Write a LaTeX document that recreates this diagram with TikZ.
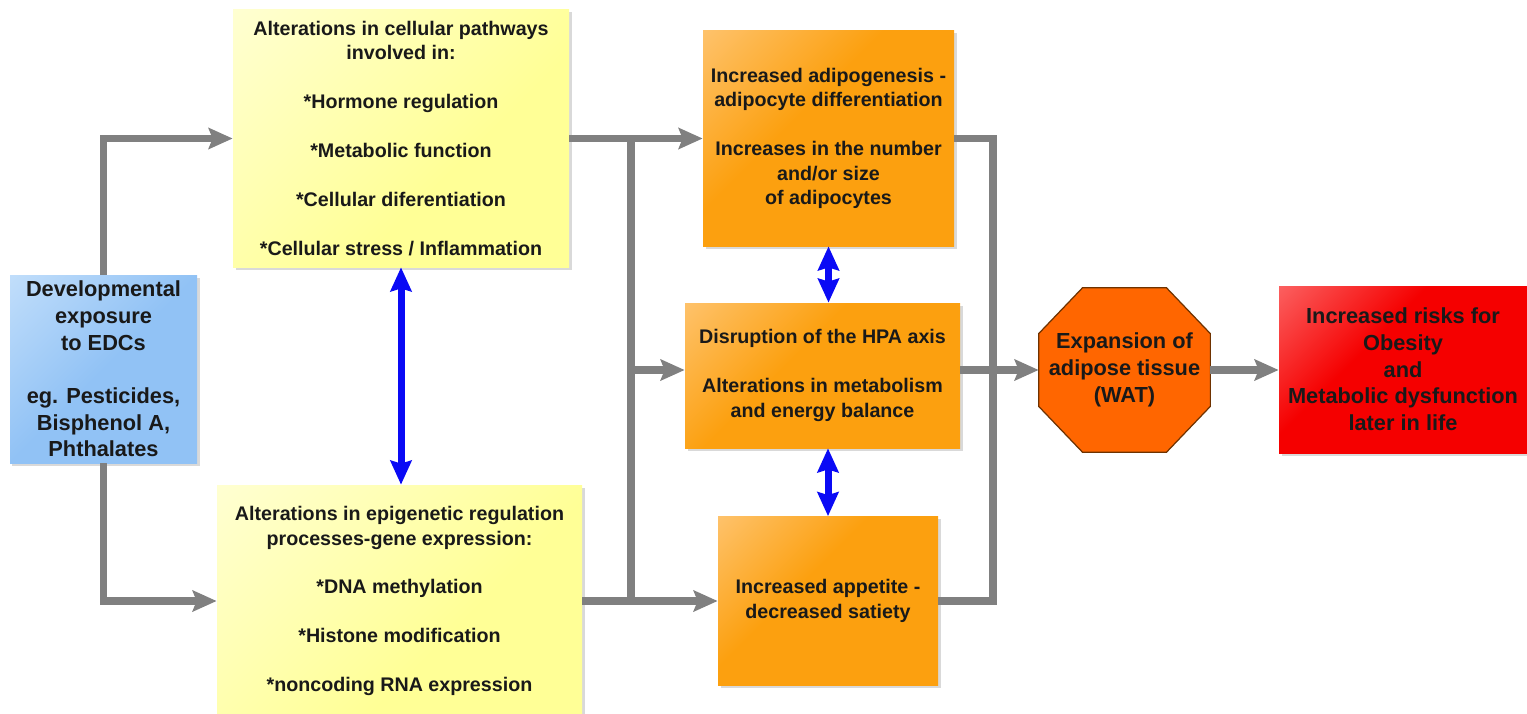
\documentclass[tikz,border=0pt]{standalone}
\usepackage{fontspec}
\setmainfont{Liberation Sans}
\usetikzlibrary{arrows.meta,shadows,backgrounds}

\definecolor{edcblue}{RGB}{145,194,245}
\definecolor{edclight}{RGB}{212,233,253}
\definecolor{pathyellow}{RGB}{255,255,150}
\definecolor{pathlight}{RGB}{255,255,228}
\definecolor{effectorange}{RGB}{252,160,15}
\definecolor{effectlight}{RGB}{255,212,155}
\definecolor{watorange}{RGB}{255,102,0}
\definecolor{watedge}{RGB}{110,50,0}
\definecolor{riskred}{RGB}{245,0,0}
\definecolor{risklight}{RGB}{255,150,150}
\definecolor{linkgray}{RGB}{128,128,128}
\definecolor{linkblue}{RGB}{10,10,245}

% glossy fills, light corner at the top left
\pgfdeclarehorizontalshading{edcgloss}{100bp}{color(0bp)=(edclight); color(50bp)=(edcblue); color(100bp)=(edcblue)}
\pgfdeclarehorizontalshading{pathgloss}{100bp}{color(0bp)=(pathlight); color(60bp)=(pathyellow); color(100bp)=(pathyellow)}
\pgfdeclarehorizontalshading{effectgloss}{100bp}{color(0bp)=(effectlight); color(42bp)=(effectorange); color(100bp)=(effectorange)}
\pgfdeclarehorizontalshading{riskgloss}{100bp}{color(0bp)=(risklight); color(40bp)=(riskred); color(100bp)=(riskred)}

\tikzset{
  boxtext/.style={font=\bfseries\fontsize{11.2}{13.9}\selectfont, align=center, text=black!90, inner sep=0pt},
  bigtext/.style={font=\bfseries\fontsize{12.4}{15.2}\selectfont, align=center, text=black!90, inner sep=0pt},
  softshadow/.style={drop shadow={opacity=0.3, shadow xshift=0.05cm, shadow yshift=-0.05cm}},
  glossbox/.style={shade, shading=#1, shading angle=-45, softshadow},
  edcbox/.style={bigtext, glossbox=edcgloss},
  pathbox/.style={boxtext, glossbox=pathgloss},
  effectbox/.style={boxtext, glossbox=effectgloss},
  riskbox/.style={bigtext, glossbox=riskgloss},
  watshape/.style={fill=watorange, draw=watedge, line width=0.7pt},
  link/.style={draw=linkgray, line width=0.15cm},
  feed/.style={link, -{Stealth[length=0.48cm, width=0.42cm, inset=0.08cm]}},
  duplex/.style={draw=linkblue, line width=0.14cm,
    {Stealth[length=0.48cm, width=0.42cm, inset=0.06cm]}-{Stealth[length=0.48cm, width=0.42cm, inset=0.06cm]}}
}

\begin{document}
\begin{tikzpicture}[x=0.02cm, y=-0.02cm]

	%one unit is one pixel of the 1527 x 713 sheet, y runs downwards
	\def\unitpx{0.02cm}
	\useasboundingbox (0,0) rectangle (1527,713);

	%exposure, far left
	\node[edcbox, minimum width=187*\unitpx, minimum height=188*\unitpx] (edc) at (103.5,369)
		{Developmental\\exposure\\to EDCs\\[\baselineskip]eg. Pesticides,\\Bisphenol A,\\Phthalates};

	%pathways, upper and lower
	\node[pathbox, minimum width=336*\unitpx, minimum height=257*\unitpx] (ytop) at (401,138.5)
		{Alterations in cellular pathways\\involved in:\\[\baselineskip]*Hormone regulation\\[\baselineskip]*Metabolic function\\[\baselineskip]*Cellular diferentiation\\[\baselineskip]*Cellular stress / Inflammation};
	\node[pathbox, minimum width=365*\unitpx, minimum height=232*\unitpx] (ybot) at (399.5,601)
		{Alterations in epigenetic regulation\\processes-gene expression:\\[\baselineskip]*DNA methylation\\[\baselineskip]*Histone modification\\[\baselineskip]*noncoding RNA expression};

	%effects, middle column
	\node[effectbox, minimum width=251*\unitpx, minimum height=215*\unitpx] (or1) at (828.5,138.5)
		{Increased adipogenesis -\\adipocyte differentiation\\[\baselineskip]Increases in the number\\and/or size\\of adipocytes};
	\node[effectbox, minimum width=275*\unitpx, minimum height=145*\unitpx] (or2) at (822.5,375.5)
		{Disruption of the HPA axis\\[\baselineskip]Alterations in metabolism\\and energy balance};
	\node[effectbox, minimum width=220*\unitpx, minimum height=169*\unitpx] (or3) at (828,601)
		{Increased appetite -\\decreased satiety};

	%outcome, right
	\node[bigtext, minimum width=171*\unitpx, minimum height=164*\unitpx] (wat) at (1124.5,370)
		{Expansion of\\adipose tissue\\(WAT)};
	\begin{scope}[on background layer]
		\filldraw[watshape] ([xshift=44*\unitpx]wat.north west) -- ([xshift=-44*\unitpx]wat.north east)
			-- ([yshift=-46*\unitpx]wat.north east) -- ([yshift=46*\unitpx]wat.south east)
			-- ([xshift=-44*\unitpx]wat.south east) -- ([xshift=44*\unitpx]wat.south west)
			-- ([yshift=46*\unitpx]wat.south west) -- ([yshift=-46*\unitpx]wat.north west) -- cycle;
	\end{scope}
	\node[riskbox, minimum width=248*\unitpx, minimum height=167*\unitpx] (risk) at (1403,369.5)
		{Increased risks for\\Obesity\\and\\Metabolic dysfunction\\later in life};

	%gray flow
	\coordinate (split) at (631,0);
	\coordinate (merge) at (993,0);
	\draw[feed] (edc.north) |- (ytop.west);
	\draw[feed] (edc.south) |- (ybot.west);
	\draw[feed] (ytop.east) -- (or1.west);
	\draw[link] (split |- or1.west) -- (split |- ybot.east);
	\draw[feed] (split |- wat.west) -- (or2.west |- wat.west);
	\draw[feed] (ybot.east) -- (or3.west);
	\draw[link] (or1.east) -| (merge |- or3.east) -- (or3.east);
	\draw[feed] (or2.east |- wat.west) -- (wat.west);
	\draw[feed] (wat.east) -- (risk.west |- wat.east);

	%blue two-way links
	\draw[duplex] (ytop.south) -- (ytop.south |- ybot.north);
	\draw[duplex] (or1.south) -- (or1.south |- or2.north);
	\draw[duplex] (or3.north |- or2.south) -- (or3.north);

\end{tikzpicture}
\end{document}
